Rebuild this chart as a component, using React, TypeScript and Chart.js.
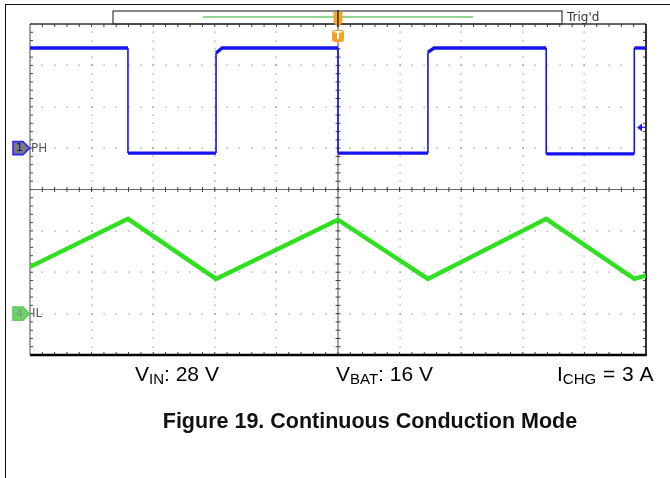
import React, { useEffect, useRef } from "react";
import { Chart, registerables } from "chart.js";

Chart.register(...registerables);

// time axis in divisions (0..10), vertical in divisions (-4..4)
const phTime = [0, 1.59, 1.59, 3.02, 3.02, 3.12, 5.0, 5.0, 6.46, 6.46, 6.56, 8.38, 8.38, 9.81, 9.81, 10];
const phLevel = [3.42, 3.42, 0.88, 0.88, 3.3, 3.42, 3.42, 0.88, 0.88, 3.32, 3.42, 3.42, 0.86, 0.86, 3.42, 3.42];
const ilTime = [0, 1.59, 3.02, 5.0, 6.46, 8.38, 9.81, 10];
const ilLevel = [-1.87, -0.71, -2.16, -0.73, -2.16, -0.71, -2.16, -2.08];
const channelLabels = ["PH", "IL"];
const channelGround = [1.0, -3.0];
const triggerTime = 5.0;
const triggerLevel = 1.5;

const X_DIVS = 10;
const Y_DIVS = 8;

const graticule = {
  id: "graticule",
  beforeDatasetsDraw(chart: any) {
    const { ctx } = chart;
    const xs = chart.scales.x;
    const ys = chart.scales.y;
    const px = (v: number) => xs.getPixelForValue(v);
    const py = (v: number) => ys.getPixelForValue(v);
    ctx.save();
    // dotted major grid
    ctx.fillStyle = "#8a8a8a";
    for (let i = 1; i < X_DIVS; i++) {
      if (i === 5) continue;
      for (let k = 1; k < Y_DIVS * 5; k++) {
        const yv = -4 + k * 0.2;
        ctx.fillRect(Math.round(px(i)) - 0.5, Math.round(py(yv)) - 0.5, 1.2, 1.2);
      }
    }
    for (let j = -3; j <= 3; j++) {
      if (j === 0) continue;
      for (let k = 1; k < X_DIVS * 5; k++) {
        const xv = k * 0.2;
        ctx.fillRect(Math.round(px(xv)) - 0.5, Math.round(py(j)) - 0.5, 1.2, 1.2);
      }
    }
    // center axes
    ctx.strokeStyle = "#6a6a6a";
    ctx.lineWidth = 1.2;
    ctx.beginPath();
    ctx.moveTo(px(0), py(0));
    ctx.lineTo(px(10), py(0));
    ctx.moveTo(px(5), py(4));
    ctx.lineTo(px(5), py(-4));
    ctx.stroke();
    ctx.strokeStyle = "#404040";
    ctx.lineWidth = 1;
    ctx.beginPath();
    for (let k = 1; k < X_DIVS * 5; k++) {
      const x = px(k * 0.2);
      ctx.moveTo(x, py(0) - 2.5);
      ctx.lineTo(x, py(0) + 2.5);
      ctx.moveTo(x, py(4));
      ctx.lineTo(x, py(4) + 3);
      ctx.moveTo(x, py(-4));
      ctx.lineTo(x, py(-4) - 3);
    }
    for (let k = 1; k < Y_DIVS * 5; k++) {
      const y = py(-4 + k * 0.2);
      ctx.moveTo(px(5) - 2.5, y);
      ctx.lineTo(px(5) + 2.5, y);
      ctx.moveTo(px(0), y);
      ctx.lineTo(px(0) + 3, y);
      ctx.moveTo(px(10), y);
      ctx.lineTo(px(10) - 3, y);
    }
    ctx.stroke();
    // frame edges
    ctx.strokeStyle = "#666";
    ctx.lineWidth = 1.2;
    ctx.beginPath();
    ctx.moveTo(px(0), py(4));
    ctx.lineTo(px(0), py(-4));
    ctx.stroke();
    ctx.strokeStyle = "#333";
    ctx.lineWidth = 1.5;
    ctx.beginPath();
    ctx.moveTo(px(0), py(4));
    ctx.lineTo(px(10), py(4));
    ctx.stroke();
    ctx.strokeStyle = "#000";
    ctx.lineWidth = 1.6;
    ctx.beginPath();
    ctx.moveTo(px(10), py(4));
    ctx.lineTo(px(10), py(-4));
    ctx.stroke();
    ctx.lineWidth = 2.6;
    ctx.beginPath();
    ctx.moveTo(px(0), py(-4));
    ctx.lineTo(px(10) + 0.8, py(-4));
    ctx.stroke();
    ctx.restore();
  },
  afterDraw(chart: any) {
    const { ctx } = chart;
    const xs = chart.scales.x;
    const ys = chart.scales.y;
    const px = (v: number) => xs.getPixelForValue(v);
    const py = (v: number) => ys.getPixelForValue(v);
    ctx.save();
    // record bar at top
    const top = py(4);
    ctx.strokeStyle = "#3a3a3a";
    ctx.lineWidth = 1.2;
    ctx.strokeRect(113, 11, 449, top - 11);
    ctx.strokeStyle = "#6cc66c";
    ctx.lineWidth = 1.6;
    ctx.beginPath();
    ctx.moveTo(203, 17);
    ctx.lineTo(473, 17);
    ctx.stroke();
    // trigger position marker
    const tx = px(triggerTime);
    ctx.fillStyle = "#f5a623";
    ctx.beginPath();
    ctx.moveTo(tx - 4.5, 12);
    ctx.lineTo(tx + 4.5, 12);
    ctx.lineTo(tx + 4.5, 22);
    ctx.lineTo(tx, 28);
    ctx.lineTo(tx - 4.5, 22);
    ctx.closePath();
    ctx.fill();
    ctx.strokeStyle = "#222";
    ctx.lineWidth = 1.4;
    ctx.beginPath();
    ctx.moveTo(tx, 10);
    ctx.lineTo(tx, 27);
    ctx.stroke();
    // T badge
    ctx.fillStyle = "#f5a020";
    ctx.beginPath();
    const bx = tx - 6, bw = 12, byy = 30, bh = 12, r = 3;
    ctx.moveTo(bx + r, byy);
    ctx.lineTo(bx + bw - r, byy);
    ctx.quadraticCurveTo(bx + bw, byy, bx + bw, byy + r);
    ctx.lineTo(bx + bw, byy + bh - r);
    ctx.quadraticCurveTo(bx + bw, byy + bh, bx + bw - r, byy + bh);
    ctx.lineTo(bx + r, byy + bh);
    ctx.quadraticCurveTo(bx, byy + bh, bx, byy + bh - r);
    ctx.lineTo(bx, byy + r);
    ctx.quadraticCurveTo(bx, byy, bx + r, byy);
    ctx.closePath();
    ctx.fill();
    ctx.fillStyle = "#fff";
    ctx.font = "bold 11px 'DejaVu Sans'";
    ctx.textAlign = "center";
    ctx.textBaseline = "middle";
    ctx.fillText("T", tx, 36.5);
    // channel ground markers
    const drawMarker = (yv: number, fill: string, stroke: string, label: string, textColor: string) => {
      const y = py(yv);
      ctx.beginPath();
      ctx.moveTo(13, y - 6.5);
      ctx.lineTo(23, y - 6.5);
      ctx.lineTo(29.5, y);
      ctx.lineTo(23, y + 6.5);
      ctx.lineTo(13, y + 6.5);
      ctx.closePath();
      ctx.fillStyle = fill;
      ctx.fill();
      ctx.strokeStyle = stroke;
      ctx.lineWidth = 1.6;
      ctx.stroke();
      ctx.fillStyle = textColor;
      ctx.font = "11px 'DejaVu Sans'";
      ctx.textAlign = "center";
      ctx.textBaseline = "middle";
      ctx.fillText(label, 19.5, y + 0.5);
    };
    drawMarker(channelGround[0], "#7a7a7a", "#2a2aff", "1", "#101060");
    drawMarker(channelGround[1], "#6ad66a", "#5ccc5c", "4", "#8a8a8a");
    ctx.fillStyle = "#555";
    ctx.font = "12px 'DejaVu Sans'";
    ctx.textAlign = "left";
    ctx.textBaseline = "middle";
    ctx.fillText(channelLabels[0], 31, py(channelGround[0]) + 0.5);
    ctx.fillText(channelLabels[1], 32, py(channelGround[1]) + 0.5);
    // trigger level arrow (right)
    const ay = py(triggerLevel);
    const ax = px(10) - 9;
    ctx.fillStyle = "#1a1aff";
    ctx.beginPath();
    ctx.moveTo(ax, ay);
    ctx.lineTo(ax + 5, ay - 4);
    ctx.lineTo(ax + 5, ay + 4);
    ctx.closePath();
    ctx.fill();
    ctx.strokeStyle = "#1a1aff";
    ctx.lineWidth = 1.3;
    ctx.beginPath();
    ctx.moveTo(ax + 4, ay);
    ctx.lineTo(ax + 8, ay);
    ctx.stroke();
    ctx.restore();
  },
};

export default function App() {
  const ref = useRef<HTMLCanvasElement | null>(null);
  useEffect(() => {
    if (!ref.current) return;
    const chart = new Chart(ref.current, {
      type: "line",
      data: {
        datasets: [
          {
            label: "PH",
            data: phTime.map((t, i) => ({ x: t, y: phLevel[i] })),
            borderColor: "#1414ee",
            borderWidth: 3.4,
            pointRadius: 0,
            tension: 0,
            segment: {
              borderWidth: (c: any) => (c.p0.parsed.x === c.p1.parsed.x ? 1.6 : 3.4),
            },
          } as any,
          {
            label: "IL",
            data: ilTime.map((t, i) => ({ x: t, y: ilLevel[i] })),
            borderColor: "#2fe020",
            borderWidth: 4.4,
            pointRadius: 0,
            tension: 0,
          },
        ],
      },
      options: {
        animation: false,
        responsive: false,
        maintainAspectRatio: false,
        layout: { padding: { left: 30, top: 24, right: 24, bottom: 123 } },
        plugins: { legend: { display: false }, tooltip: { enabled: false }, title: { display: false } },
        scales: {
          x: { type: "linear", min: 0, max: X_DIVS, display: false },
          y: { type: "linear", min: -Y_DIVS / 2, max: Y_DIVS / 2, display: false },
        },
      },
      plugins: [graticule],
    });
    return () => chart.destroy();
  }, []);

  const lbl: React.CSSProperties = {
    position: "absolute",
    top: 362,
    font: "21px 'Liberation Sans', Arial, sans-serif",
    color: "#000",
    whiteSpace: "nowrap",
  };
  const sub: React.CSSProperties = { fontSize: "15px", verticalAlign: "-3px" };

  return (
    <div style={{ position: "fixed", left: 0, top: 0, width: 670, height: 478, overflow: "hidden", background: "#fff" }}>
      <div
        style={{
          position: "absolute",
          left: 5,
          top: 4,
          width: 700,
          height: 500,
          borderTop: "1.6px solid #111",
          borderLeft: "1.6px solid #111",
        }}
      />
      <canvas ref={ref} width={670} height={478} style={{ position: "absolute", left: 0, top: 0 }} />
      <div
        style={{
          position: "absolute",
          left: 567,
          top: 10,
          font: "12px 'DejaVu Sans', sans-serif",
          color: "#333",
        }}
      >
        Trig'd
      </div>
      <div style={{ ...lbl, left: 135 }}>
        V<span style={sub}>IN</span>: 28 V
      </div>
      <div style={{ ...lbl, left: 336 }}>
        V<span style={sub}>BAT</span>: 16 V
      </div>
      <div style={{ ...lbl, left: 557, wordSpacing: "1px" }}>
        I<span style={sub}>CHG</span> = 3 A
      </div>
      <div
        style={{
          position: "absolute",
          left: 0,
          width: 740,
          top: 409,
          textAlign: "center",
          font: "bold 21.5px 'Liberation Sans', Arial, sans-serif",
          color: "#111",
        }}
      >
        Figure 19. Continuous Conduction Mode
      </div>
    </div>
  );
}
